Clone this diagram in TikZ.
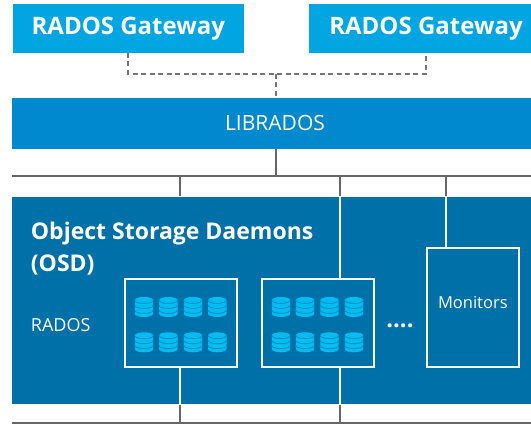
\documentclass[tikz,border=0pt]{standalone}
\usepackage{fontspec}
\setmainfont{Open Sans}
\definecolor{gwc}{HTML}{00A5E2}
\definecolor{libc}{HTML}{0089CF}
\definecolor{osdc}{HTML}{0070A9}
\definecolor{diskc}{HTML}{00BDF0}
\definecolor{disksep}{HTML}{0A8FD0}
\definecolor{linec}{HTML}{666666}
\tikzset{
  gwbox/.style={fill=gwc, text=white, inner sep=0, font=\bfseries\fontsize{24}{28}\selectfont},
  libbox/.style={fill=libc, text=white, inner sep=0, font=\fontsize{21}{25}\selectfont},
  osdbox/.style={fill=osdc, inner sep=0},
  hostbox/.style={draw=white, line width=2pt, inner sep=0},
  whitetext/.style={text=white, inner sep=0},
  busline/.style={draw=linec, line width=2pt},
  wline/.style={draw=white, line width=2pt},
  dashline/.style={draw=linec!90, line width=2pt, dash pattern=on 5pt off 3.5pt},
  disk/.pic={
    \fill[diskc] (-9.2,-6.8) -- (-9.2,6.8) arc[start angle=180,end angle=0,x radius=9.2,y radius=3.2]
      -- (9.2,-6.8) arc[start angle=0,end angle=-180,x radius=9.2,y radius=3.2] -- cycle;
    \foreach \yy in {-6.8,-1.8,3.2}
      \draw[disksep, line width=0.9pt] (-9.2,\yy) arc[start angle=180,end angle=0,x radius=9.2,y radius=3.2];
  }
}
\begin{document}
\begin{tikzpicture}[x=1pt,y=-1pt]
\path[use as bounding box, clip] (0,0) rectangle (531,425);

% top row
\node[gwbox, minimum width=231.3pt, minimum height=48.7pt] (gw1) at (128.35,28.35) {RADOS Gateway};
\node[gwbox, minimum width=234pt, minimum height=48.7pt] (gw2) at (426,28.35) {RADOS Gateway};
\node[libbox, minimum width=526pt, minimum height=50.7pt] (lib) at (275,123.35) {LIBRADOS};

\coordinate (dj) at (276,74);
\draw[dashline] (gw1.south) |- (dj) -| (gw2.south);
\draw[dashline] (dj) -- (dj |- lib.north);

% OSD area
\node[osdbox, minimum width=530pt, minimum height=207.6pt] (osd) at (277,300.5) {};

% bus
\coordinate (busL) at (12,176);
\coordinate (busR) at (531,176);
\coordinate (botL) at (12,423.3);
\coordinate (botR) at (531,423.3);
\draw[busline] (busL) -- (busR);
\draw[busline] (botL) -- (botR);
\draw[busline] (276,148.7) -- (276,176);

% hosts
\node[hostbox, minimum width=112.3pt, minimum height=88pt] (h1) at (180.85,323) {};
\node[hostbox, minimum width=112.3pt, minimum height=87.4pt] (h2) at (317.85,323) {};
\node[hostbox, minimum width=92.3pt, minimum height=118.7pt] (mon) at (472.85,307.65) {};
\node[whitetext, font=\fontsize{16.5}{20}\selectfont] (monl) at (472.85,303) {Monitors};

\coordinate (c1) at (180.3,0);
\coordinate (c2) at (340,0);
\coordinate (c3) at (446,0);

\draw[busline] (c1 |- busL) -- (c1 |- osd.north);
\draw[busline] (c2 |- busL) -- (c2 |- osd.north);
\draw[busline] (c3 |- busL) -- (c3 |- osd.north);
\draw[wline] (c2 |- osd.north) -- (c2 |- h2.north);
\draw[wline] (c3 |- osd.north) -- (c3 |- mon.north);
\draw[wline] (c1 |- h1.south) -- (c1 |- osd.south);
\draw[wline] (c2 |- h2.south) -- (c2 |- osd.south);
\draw[busline] (c1 |- osd.south) -- (c1 |- botL);
\draw[busline] (c2 |- osd.south) -- (c2 |- botL);

% disks
\foreach \xx in {144,168.3,193,217.3,281,305,329.5,354}
  \foreach \yy in {307,342.3}
    \pic at (\xx,\yy) {disk};

% texts
\node[whitetext, anchor=base west, font=\bfseries\fontsize{23}{28}\selectfont] (t1) at (30.7,240) {Object Storage Daemons};
\node[whitetext, anchor=base west, font=\bfseries\fontsize{23}{28}\selectfont] (t2) at (30.7,271.7) {(OSD)};
\node[whitetext, anchor=base west, font=\fontsize{18}{22}\selectfont] (rados) at (30.7,331) {RADOS};
\node[whitetext, anchor=base, font=\bfseries\fontsize{24}{28}\selectfont] (dots) at (400,327.4) {....};
\end{tikzpicture}
\end{document}
